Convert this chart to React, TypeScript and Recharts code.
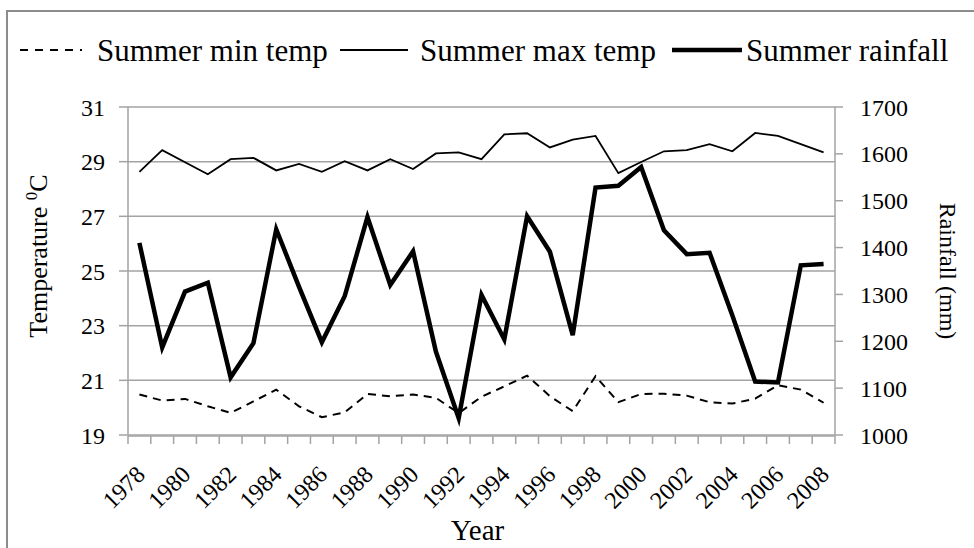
import React from 'react';
import { LineChart, Line, XAxis, YAxis, CartesianGrid } from 'recharts';

const years = [
  1978, 1979, 1980, 1981, 1982, 1983, 1984, 1985, 1986, 1987, 1988, 1989, 1990, 1991, 1992, 1993,
  1994, 1995, 1996, 1997, 1998, 1999, 2000, 2001, 2002, 2003, 2004, 2005, 2006, 2007, 2008,
];
const minTemp = [
  20.48, 20.26, 20.32, 20.05, 19.81, 20.23, 20.66, 20.05, 19.65, 19.83, 20.5, 20.42, 20.48, 20.36, 19.8,
  20.4, 20.78, 21.17, 20.42, 19.87, 21.15, 20.2, 20.5, 20.51, 20.44, 20.2, 20.15, 20.33, 20.82, 20.66, 20.18,
];
const maxTemp = [
  28.63, 29.42, 28.98, 28.54, 29.09, 29.14, 28.68, 28.92, 28.63, 29.02, 28.68, 29.09, 28.73, 29.3, 29.34,
  29.09, 30.0, 30.04, 29.52, 29.81, 29.94, 28.58, 28.99, 29.38, 29.42, 29.64, 29.38, 30.05, 29.94, 29.64, 29.34,
];
const rainfall = [
  1410, 1187, 1306, 1325, 1123, 1196, 1439, 1316, 1198, 1296, 1465, 1320, 1392, 1178, 1036, 1299,
  1204, 1467, 1391, 1213, 1528, 1532, 1572, 1437, 1386, 1389, 1255, 1114, 1112, 1362, 1365,
];
const yearLabels = [1978, 1980, 1982, 1984, 1986, 1988, 1990, 1992, 1994, 1996, 1998, 2000, 2002, 2004, 2006, 2008];
const tempTicks = [19, 21, 23, 25, 27, 29, 31];
const rainTicks = [1000, 1100, 1200, 1300, 1400, 1500, 1600, 1700];

const data = years.map((year, i) => ({
  year,
  minTemp: minTemp[i],
  maxTemp: maxTemp[i],
  rainfall: rainfall[i],
}));

// tick marks sit between the years, like the category axis in the original
const yearEdges = [...years.map((y) => y - 0.5), years[years.length - 1] + 0.5];
const xDomain = [yearEdges[0], yearEdges[yearEdges.length - 1]];

const FONT = '"Liberation Serif", "Times New Roman", serif';
const GREY = '#a3a3a3';
const PLOT_BOTTOM = 435;

const EmptyTick = () => <g />;

const YearTick = (props: any) => {
  const { x, payload } = props;
  const ax = x + 7;
  const ay = PLOT_BOTTOM + 41;
  return (
    <text x={ax} y={ay} transform={`rotate(-45 ${ax} ${ay})`} textAnchor="end" fontSize={24} fontFamily={FONT} fill="#000">
      {payload.value}
    </text>
  );
};

const YearTitle = (props: any) => {
  const { viewBox } = props;
  return (
    <text x={viewBox.x + viewBox.width / 2 - 4} y={540} textAnchor="middle" fontSize={29} fontFamily={FONT} fill="#000">
      Year
    </text>
  );
};

const TempTitle = (props: any) => {
  const { viewBox } = props;
  const x = viewBox.x + 47;
  const y = viewBox.y + viewBox.height / 2 - 15;
  return (
    <text x={x} y={y} transform={`rotate(-90 ${x} ${y})`} textAnchor="middle" fontSize={26} fontFamily={FONT} fill="#000">
      Temperature <tspan dy={-10} fontSize={17}>0</tspan>
      <tspan dy={10}>C</tspan>
    </text>
  );
};

const RainTitle = (props: any) => {
  const { viewBox } = props;
  const x = viewBox.x + 105;
  const y = viewBox.y + viewBox.height / 2;
  return (
    <text x={x} y={y} transform={`rotate(90 ${x} ${y})`} textAnchor="middle" fontSize={24} fontFamily={FONT} fill="#000">
      Rainfall (mm)
    </text>
  );
};

const legendItems = [
  { label: 'Summer min temp', x1: 20, x2: 82, tx: 97, width: 2, dash: '8 7' },
  { label: 'Summer max temp', x1: 340, x2: 408, tx: 420, width: 2, dash: undefined },
  { label: 'Summer rainfall', x1: 672, x2: 742, tx: 746, width: 4.5, dash: undefined },
];

const ChartLegend = () => (
  <svg width={974} height={80} style={{ position: 'absolute', left: 0, top: 0 }}>
    {legendItems.map((item) => (
      <g key={item.label}>
        <line x1={item.x1} x2={item.x2} y1={50} y2={50} stroke="#000" strokeWidth={item.width} strokeDasharray={item.dash} />
        <text x={item.tx} y={61} fontSize={31} fontFamily={FONT} fill="#000">
          {item.label}
        </text>
      </g>
    ))}
  </svg>
);

export default function App() {
  return (
    <div style={{ position: 'fixed', left: 0, top: 0, width: 974, height: 548, overflow: 'hidden', background: '#fff' }}>
      <div style={{ position: 'absolute', left: 6, top: 10, width: 1000, height: 600, border: '2px solid #8c8c8c' }} />
      <div style={{ position: 'absolute', left: 0, top: 0 }}>
        <LineChart width={974} height={548} data={data} margin={{ top: 107, right: 0, bottom: 111, left: 0 }}>
          <CartesianGrid xAxisId="main" yAxisId="left" vertical={false} stroke={GREY} strokeWidth={1.5} />
          <XAxis
            xAxisId="main"
            dataKey="year"
            type="number"
            domain={xDomain}
            ticks={yearEdges}
            interval={0}
            tick={EmptyTick}
            tickSize={8}
            height={1}
            stroke={GREY}
            strokeWidth={1.5}
          />
          <XAxis
            xAxisId="labels"
            dataKey="year"
            type="number"
            domain={xDomain}
            ticks={yearLabels}
            interval={0}
            tick={<YearTick />}
            tickLine={false}
            axisLine={false}
            tickSize={0}
            tickMargin={0}
            height={1}
            label={<YearTitle />}
          />
          <YAxis
            yAxisId="left"
            width={128}
            domain={[19, 31]}
            ticks={tempTicks}
            interval={0}
            tickSize={9}
            tickMargin={14}
            stroke={GREY}
            strokeWidth={1.5}
            tick={{ fill: '#000', fontSize: 24, fontFamily: FONT }}
            label={<TempTitle />}
          />
          <YAxis
            yAxisId="right"
            orientation="right"
            width={139}
            domain={[1000, 1700]}
            ticks={rainTicks}
            interval={0}
            tickSize={8}
            tickMargin={17}
            stroke={GREY}
            strokeWidth={1.5}
            tick={{ fill: '#000', fontSize: 24, fontFamily: FONT }}
            label={<RainTitle />}
          />
          <Line
            xAxisId="main"
            yAxisId="left"
            type="linear"
            dataKey="minTemp"
            stroke="#000"
            strokeWidth={2}
            strokeDasharray="8 6"
            dot={false}
            isAnimationActive={false}
          />
          <Line
            xAxisId="main"
            yAxisId="left"
            type="linear"
            dataKey="maxTemp"
            stroke="#000"
            strokeWidth={1.8}
            dot={false}
            isAnimationActive={false}
          />
          <Line
            xAxisId="main"
            yAxisId="right"
            type="linear"
            dataKey="rainfall"
            stroke="#000"
            strokeWidth={4.5}
            dot={false}
            isAnimationActive={false}
          />
        </LineChart>
      </div>
      <ChartLegend />
    </div>
  );
}
